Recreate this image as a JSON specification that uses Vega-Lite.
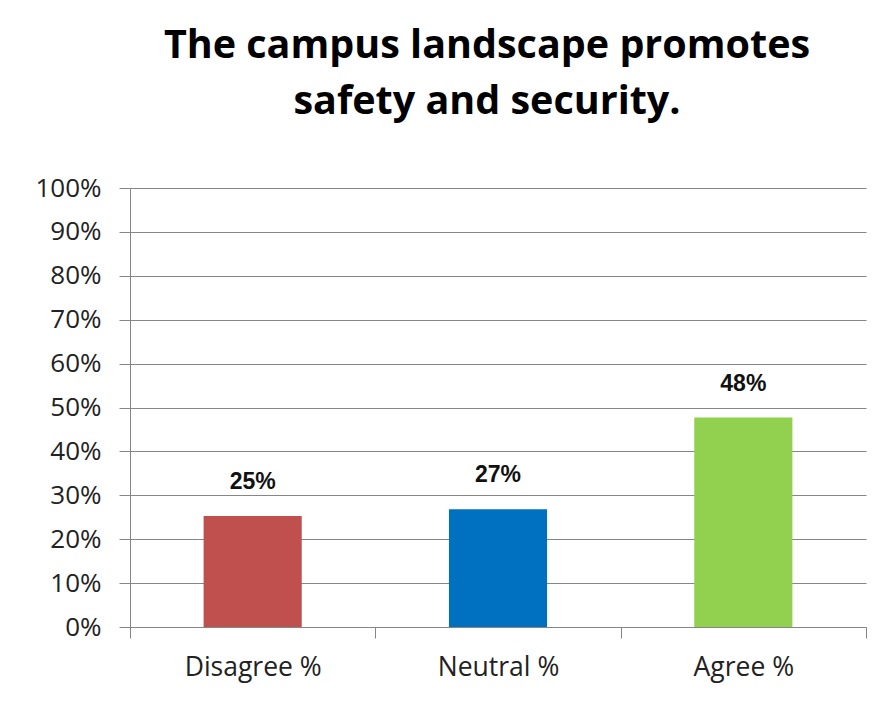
{
  "$schema": "https://vega.github.io/schema/vega-lite/v6.json",
  "width": 736,
  "height": 439,
  "autosize": {"type": "none"},
  "padding": {"left": 130, "top": 188, "right": 24, "bottom": 77},
  "background": "white",
  "title": {
    "text": ["The campus landscape promotes", "safety and security."],
    "font": "Open Sans",
    "fontSize": 39.5,
    "fontWeight": "bold",
    "color": "#000000",
    "lineHeight": 56,
    "anchor": "middle",
    "dx": -11,
    "offset": 53
  },
  "data": {
    "values": [
      {"category": "Disagree %", "value": 0.253},
      {"category": "Neutral %", "value": 0.268},
      {"category": "Agree %", "value": 0.477}
    ]
  },
  "encoding": {
    "x": {
      "field": "category",
      "type": "nominal",
      "sort": null,
      "title": null,
      "scale": {"paddingInner": 0, "paddingOuter": 0},
      "axis": {
        "labelAngle": 0,
        "labelFont": "Open Sans",
        "labelFontSize": 26.5,
        "labelColor": "#222222",
        "labelPadding": 16,
        "tickBand": "extent",
        "tickSize": 11,
        "tickColor": "#868686",
        "domainColor": "#868686",
        "grid": false
      }
    },
    "y": {
      "field": "value",
      "type": "quantitative",
      "title": null,
      "scale": {"domain": [0, 1]},
      "axis": {
        "format": ".0%",
        "values": [0, 0.1, 0.2, 0.3, 0.4, 0.5, 0.6, 0.7, 0.8, 0.9, 1],
        "labelFont": "Open Sans",
        "labelFontSize": 26,
        "labelColor": "#222222",
        "labelPadding": 18,
        "tickSize": 11,
        "tickColor": "#868686",
        "domainColor": "#868686",
        "grid": true,
        "gridColor": "#868686",
        "gridOpacity": 1
      }
    }
  },
  "layer": [
    {
      "mark": {"type": "bar", "width": {"band": 0.4}},
      "encoding": {
        "color": {
          "field": "category",
          "type": "nominal",
          "scale": {
            "domain": ["Disagree %", "Neutral %", "Agree %"],
            "range": ["#C0504D", "#0070C0", "#92D050"]
          },
          "legend": null
        }
      }
    },
    {
      "mark": {
        "type": "text",
        "baseline": "bottom",
        "dy": -22,
        "font": "Liberation Sans",
        "fontSize": 23,
        "fontWeight": "bold",
        "color": "#111111"
      },
      "encoding": {
        "text": {"field": "value", "type": "quantitative", "format": ".0%"}
      }
    }
  ],
  "config": {
    "view": {"stroke": null}
  }
}
